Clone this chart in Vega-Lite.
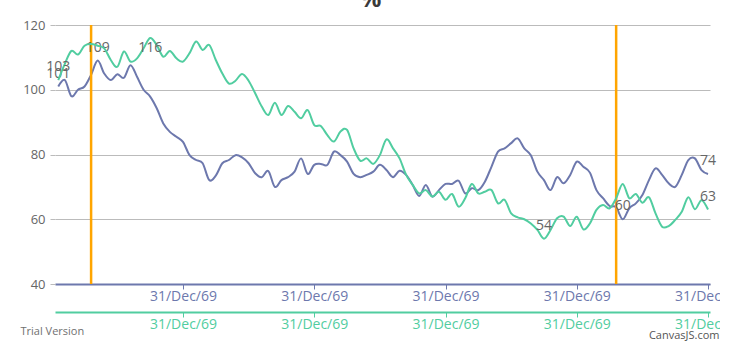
{
  "$schema": "https://vega.github.io/schema/vega-lite/v6.json",
  "width": 655,
  "height": 259,
  "autosize": {"type": "none"},
  "padding": {"left": 55, "top": 25, "right": 10, "bottom": 77},
  "background": "white",
  "config": {"view": {"stroke": null}, "font": "Open Sans"},
  "title": {"text": "%", "fontSize": 24, "fontWeight": "bold", "color": "#3A3A3A", "font": "Open Sans", "offset": 6, "baseline": "alphabetic", "dx": -12, "dy": 18},
  "datasets": {
    "series": [
      {"n":1,"series":"Series 1","value":101},{"n":2,"series":"Series 1","value":103},{"n":3,"series":"Series 1","value":98},{"n":4,"series":"Series 1","value":100},{"n":5,"series":"Series 1","value":101},
      {"n":6,"series":"Series 1","value":104.6},{"n":7,"series":"Series 1","value":109},{"n":8,"series":"Series 1","value":105},{"n":9,"series":"Series 1","value":103},{"n":10,"series":"Series 1","value":104.8},
      {"n":11,"series":"Series 1","value":103.7},{"n":12,"series":"Series 1","value":107.6},{"n":13,"series":"Series 1","value":104},{"n":14,"series":"Series 1","value":100},{"n":15,"series":"Series 1","value":97.9},
      {"n":16,"series":"Series 1","value":94.3},{"n":17,"series":"Series 1","value":89.6},{"n":18,"series":"Series 1","value":87},{"n":19,"series":"Series 1","value":85.5},{"n":20,"series":"Series 1","value":83.9},
      {"n":21,"series":"Series 1","value":79.8},{"n":22,"series":"Series 1","value":78.3},{"n":23,"series":"Series 1","value":77.3},{"n":24,"series":"Series 1","value":72.1},{"n":25,"series":"Series 1","value":73.5},
      {"n":26,"series":"Series 1","value":77.3},{"n":27,"series":"Series 1","value":78.3},{"n":28,"series":"Series 1","value":79.8},{"n":29,"series":"Series 1","value":79.1},{"n":30,"series":"Series 1","value":77.3},
      {"n":31,"series":"Series 1","value":74.2},{"n":32,"series":"Series 1","value":73},{"n":33,"series":"Series 1","value":74.9},{"n":34,"series":"Series 1","value":70},{"n":35,"series":"Series 1","value":72.1},
      {"n":36,"series":"Series 1","value":73},{"n":37,"series":"Series 1","value":74.7},{"n":38,"series":"Series 1","value":78.8},{"n":39,"series":"Series 1","value":74},{"n":40,"series":"Series 1","value":76.8},
      {"n":41,"series":"Series 1","value":77.1},{"n":42,"series":"Series 1","value":76.8},{"n":43,"series":"Series 1","value":80.9},{"n":44,"series":"Series 1","value":79.8},{"n":45,"series":"Series 1","value":77.8},
      {"n":46,"series":"Series 1","value":74},{"n":47,"series":"Series 1","value":73},{"n":48,"series":"Series 1","value":73.7},{"n":49,"series":"Series 1","value":74.7},{"n":50,"series":"Series 1","value":76.8},
      {"n":51,"series":"Series 1","value":75.2},{"n":52,"series":"Series 1","value":73},{"n":53,"series":"Series 1","value":75},{"n":54,"series":"Series 1","value":73.7},{"n":55,"series":"Series 1","value":70.6},
      {"n":56,"series":"Series 1","value":67.2},{"n":57,"series":"Series 1","value":70.6},{"n":58,"series":"Series 1","value":67},{"n":59,"series":"Series 1","value":69},{"n":60,"series":"Series 1","value":70.9},
      {"n":61,"series":"Series 1","value":70.9},{"n":62,"series":"Series 1","value":71.9},{"n":63,"series":"Series 1","value":68},{"n":64,"series":"Series 1","value":69.6},{"n":65,"series":"Series 1","value":69},
      {"n":66,"series":"Series 1","value":71.6},{"n":67,"series":"Series 1","value":76.2},{"n":68,"series":"Series 1","value":80.9},{"n":69,"series":"Series 1","value":81.9},{"n":70,"series":"Series 1","value":83.5},
      {"n":71,"series":"Series 1","value":85},{"n":72,"series":"Series 1","value":81.9},{"n":73,"series":"Series 1","value":79.8},{"n":74,"series":"Series 1","value":74.7},{"n":75,"series":"Series 1","value":72.1},
      {"n":76,"series":"Series 1","value":69},{"n":77,"series":"Series 1","value":73},{"n":78,"series":"Series 1","value":71.1},{"n":79,"series":"Series 1","value":73.7},{"n":80,"series":"Series 1","value":77.8},
      {"n":81,"series":"Series 1","value":76.2},{"n":82,"series":"Series 1","value":74.4},{"n":83,"series":"Series 1","value":69},{"n":84,"series":"Series 1","value":66.5},{"n":85,"series":"Series 1","value":64.1},
      {"n":86,"series":"Series 1","value":63.7},{"n":87,"series":"Series 1","value":60},{"n":88,"series":"Series 1","value":63.4},{"n":89,"series":"Series 1","value":64.9},{"n":90,"series":"Series 1","value":67.5},
      {"n":91,"series":"Series 1","value":72.1},{"n":92,"series":"Series 1","value":75.7},{"n":93,"series":"Series 1","value":73.7},{"n":94,"series":"Series 1","value":71.1},{"n":95,"series":"Series 1","value":70},
      {"n":96,"series":"Series 1","value":73.7},{"n":97,"series":"Series 1","value":78.3},{"n":98,"series":"Series 1","value":78.8},{"n":99,"series":"Series 1","value":75.2},{"n":100,"series":"Series 1","value":74},
      {"n":1,"series":"Series 2","value":103},{"n":2,"series":"Series 2","value":108},{"n":3,"series":"Series 2","value":112},{"n":4,"series":"Series 2","value":110.9},{"n":5,"series":"Series 2","value":113.6},
      {"n":6,"series":"Series 2","value":114.1},{"n":7,"series":"Series 2","value":113.6},{"n":8,"series":"Series 2","value":112.8},{"n":9,"series":"Series 2","value":109.2},{"n":10,"series":"Series 2","value":107.1},
      {"n":11,"series":"Series 2","value":111.8},{"n":12,"series":"Series 2","value":108.7},{"n":13,"series":"Series 2","value":109.7},{"n":14,"series":"Series 2","value":112.8},{"n":15,"series":"Series 2","value":116},
      {"n":16,"series":"Series 2","value":113.8},{"n":17,"series":"Series 2","value":110.2},{"n":18,"series":"Series 2","value":112},{"n":19,"series":"Series 2","value":109.7},{"n":20,"series":"Series 2","value":108.7},
      {"n":21,"series":"Series 2","value":111.3},{"n":22,"series":"Series 2","value":114.9},{"n":23,"series":"Series 2","value":112.3},{"n":24,"series":"Series 2","value":113.8},{"n":25,"series":"Series 2","value":109.2},
      {"n":26,"series":"Series 2","value":105},{"n":27,"series":"Series 2","value":101.9},{"n":28,"series":"Series 2","value":102.8},{"n":29,"series":"Series 2","value":104.9},{"n":30,"series":"Series 2","value":102.8},
      {"n":31,"series":"Series 2","value":98.9},{"n":32,"series":"Series 2","value":94.8},{"n":33,"series":"Series 2","value":92.2},{"n":34,"series":"Series 2","value":96},{"n":35,"series":"Series 2","value":92.2},
      {"n":36,"series":"Series 2","value":95},{"n":37,"series":"Series 2","value":93.2},{"n":38,"series":"Series 2","value":91.2},{"n":39,"series":"Series 2","value":93.7},{"n":40,"series":"Series 2","value":89.1},
      {"n":41,"series":"Series 2","value":88.8},{"n":42,"series":"Series 2","value":86},{"n":43,"series":"Series 2","value":84},{"n":44,"series":"Series 2","value":87.1},{"n":45,"series":"Series 2","value":87.6},
      {"n":46,"series":"Series 2","value":81.9},{"n":47,"series":"Series 2","value":78.1},{"n":48,"series":"Series 2","value":78.8},{"n":49,"series":"Series 2","value":77.1},{"n":50,"series":"Series 2","value":79.8},
      {"n":51,"series":"Series 2","value":84.7},{"n":52,"series":"Series 2","value":81.9},{"n":53,"series":"Series 2","value":78.8},{"n":54,"series":"Series 2","value":73.7},{"n":55,"series":"Series 2","value":70.6},
      {"n":56,"series":"Series 2","value":68},{"n":57,"series":"Series 2","value":69},{"n":58,"series":"Series 2","value":67},{"n":59,"series":"Series 2","value":68.5},{"n":60,"series":"Series 2","value":66},
      {"n":61,"series":"Series 2","value":67.8},{"n":62,"series":"Series 2","value":63.9},{"n":63,"series":"Series 2","value":66.5},{"n":64,"series":"Series 2","value":70.9},{"n":65,"series":"Series 2","value":68},
      {"n":66,"series":"Series 2","value":68.5},{"n":67,"series":"Series 2","value":69},{"n":68,"series":"Series 2","value":64.9},{"n":69,"series":"Series 2","value":66},{"n":70,"series":"Series 2","value":61.8},
      {"n":71,"series":"Series 2","value":60.6},{"n":72,"series":"Series 2","value":60},{"n":73,"series":"Series 2","value":58.7},{"n":74,"series":"Series 2","value":56.7},{"n":75,"series":"Series 2","value":54},
      {"n":76,"series":"Series 2","value":56.7},{"n":77,"series":"Series 2","value":60.3},{"n":78,"series":"Series 2","value":60.8},{"n":79,"series":"Series 2","value":57.9},{"n":80,"series":"Series 2","value":60.8},
      {"n":81,"series":"Series 2","value":56.9},{"n":82,"series":"Series 2","value":58.7},{"n":83,"series":"Series 2","value":62.9},{"n":84,"series":"Series 2","value":64.4},{"n":85,"series":"Series 2","value":63.4},
      {"n":86,"series":"Series 2","value":66.5},{"n":87,"series":"Series 2","value":70.9},{"n":88,"series":"Series 2","value":66.5},{"n":89,"series":"Series 2","value":67.8},{"n":90,"series":"Series 2","value":65.1},
      {"n":91,"series":"Series 2","value":66.8},{"n":92,"series":"Series 2","value":61.8},{"n":93,"series":"Series 2","value":57.7},{"n":94,"series":"Series 2","value":57.9},{"n":95,"series":"Series 2","value":59.8},
      {"n":96,"series":"Series 2","value":62.3},{"n":97,"series":"Series 2","value":66.8},{"n":98,"series":"Series 2","value":63.1},{"n":99,"series":"Series 2","value":65.9},{"n":100,"series":"Series 2","value":63}
    ],
    "labels": [
      {"n":1,"series":"Series 2","value":103,"place":"above"},
      {"n":1,"series":"Series 1","value":101,"place":"above"},
      {"n":7,"series":"Series 1","value":109,"place":"above"},
      {"n":15,"series":"Series 2","value":116,"place":"below"},
      {"n":75,"series":"Series 2","value":54,"place":"above"},
      {"n":87,"series":"Series 1","value":60,"place":"above"},
      {"n":100,"series":"Series 1","value":74,"place":"above"},
      {"n":100,"series":"Series 2","value":63,"place":"above"}
    ],
    "markers": [{"n":6},{"n":86}]
  },
  "layer": [
    {
      "layer": [
        {
          "data": {"name": "series"},
          "transform": [{"filter": "datum.series === 'Series 1'"}],
          "mark": {"type": "line", "interpolate": "cardinal", "color": "#6D78AD", "strokeWidth": 2},
          "encoding": {
            "x": {"field": "n", "type": "quantitative", "scale": {"domain": [0.5, 100.3], "nice": false, "zero": false},
              "axis": {"values": [20, 40, 60, 80, 100], "labelExpr": "'31/Dec/69'", "grid": false,
                "domainColor": "#6D78AD", "domainWidth": 2, "tickColor": "#6D78AD", "tickSize": 5, "tickWidth": 1,
                "labelColor": "#6D78AD", "labelFont": "Open Sans", "labelFontSize": 14, "labelPadding": 0,
                "labelFlush": false, "labelOverlap": false, "labelBound": false,
                "title": "Trial Version", "titleX": -35, "titleY": 47, "titleAlign": "left", "titleBaseline": "middle",
                "titleFontSize": 11, "titleFontWeight": "normal", "titleColor": "#707070", "titleFont": "Open Sans"}},
            "y": {"field": "value", "type": "quantitative", "scale": {"domain": [40, 120], "nice": false, "zero": false},
              "axis": {"values": [40, 60, 80, 100, 120], "grid": true, "gridColor": "#BBBBBB", "gridWidth": 1, "domain": false,
                "tickColor": "#BBBBBB", "tickSize": 5, "labelColor": "#666666", "labelFont": "Open Sans", "labelFontSize": 13,
                "labelPadding": 5, "title": null}}
          }
        },
        {
          "data": {"name": "markers"},
          "mark": {"type": "rule", "color": "#FFA500", "strokeWidth": 2.5},
          "encoding": {"x": {"field": "n", "type": "quantitative"}}
        },
        {
          "data": {"name": "labels"},
          "transform": [{"filter": "datum.series === 'Series 1'"}],
          "mark": {"type": "text", "dy": -13, "fontSize": 14, "font": "Open Sans", "color": "#666666", "baseline": "middle"},
          "encoding": {
            "x": {"field": "n", "type": "quantitative"},
            "y": {"field": "value", "type": "quantitative"},
            "text": {"field": "value", "type": "quantitative", "format": "d"}
          }
        }
      ]
    },
    {
      "layer": [
        {
          "data": {"name": "series"},
          "transform": [{"filter": "datum.series === 'Series 2'"}],
          "mark": {"type": "line", "interpolate": "cardinal", "color": "#51CDA0", "strokeWidth": 2},
          "encoding": {
            "x": {"field": "n", "type": "quantitative", "scale": {"domain": [0.5, 100.3], "nice": false, "zero": false},
              "axis": {"orient": "bottom", "offset": 28, "values": [20, 40, 60, 80, 100], "labelExpr": "'31/Dec/69'", "grid": false,
                "domainColor": "#51CDA0", "domainWidth": 2, "tickColor": "#51CDA0", "tickSize": 5, "tickWidth": 1,
                "labelColor": "#51CDA0", "labelFont": "Open Sans", "labelFontSize": 14, "labelPadding": 0,
                "labelFlush": false, "labelOverlap": false, "labelBound": false,
                "title": "CanvasJS.com", "titleX": 664, "titleY": 23, "titleAlign": "right", "titleBaseline": "middle",
                "titleFontSize": 11, "titleFontWeight": "normal", "titleColor": "#555555", "titleFont": "Open Sans"}},
            "y": {"field": "value", "type": "quantitative"}
          }
        },
        {
          "data": {"name": "labels"},
          "transform": [{"filter": "datum.series === 'Series 2' && datum.place === 'above'"}],
          "mark": {"type": "text", "dy": -13, "fontSize": 14, "font": "Open Sans", "color": "#666666", "baseline": "middle"},
          "encoding": {
            "x": {"field": "n", "type": "quantitative"},
            "y": {"field": "value", "type": "quantitative"},
            "text": {"field": "value", "type": "quantitative", "format": "d"}
          }
        },
        {
          "data": {"name": "labels"},
          "transform": [{"filter": "datum.series === 'Series 2' && datum.place === 'below'"}],
          "mark": {"type": "text", "dy": 10, "fontSize": 14, "font": "Open Sans", "color": "#666666", "baseline": "middle"},
          "encoding": {
            "x": {"field": "n", "type": "quantitative"},
            "y": {"field": "value", "type": "quantitative"},
            "text": {"field": "value", "type": "quantitative", "format": "d"}
          }
        }
      ]
    }
  ],
  "resolve": {"scale": {"x": "independent"}}
}
